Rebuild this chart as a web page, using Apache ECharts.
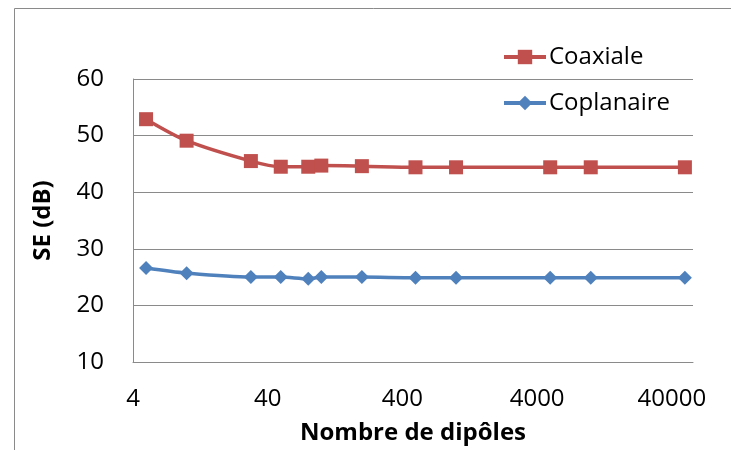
<!DOCTYPE html>
<html>
<head>
<meta charset="utf-8">
<script src="https://cdn.jsdelivr.net/npm/echarts@6/dist/echarts.min.js"></script>
<style>html,body{margin:0;padding:0;background:#fff}#c{width:731px;height:450px}</style>
</head>
<body>
<div id="c"></div>
<script>
// Data
const dipoles = [5, 10, 30, 50, 80, 100, 200, 500, 1000, 5000, 10000, 50000];
const coaxiale = [52.9, 49.1, 45.5, 44.5, 44.5, 44.7, 44.6, 44.4, 44.4, 44.4, 44.4, 44.4];
const coplanaire = [26.6, 25.7, 25.0, 25.0, 24.7, 25.0, 25.0, 24.9, 24.9, 24.9, 24.9, 24.9];
const xTickLabels = ['4', '40', '400', '4000', '40000'];
const yTicks = [10, 20, 30, 40, 50, 60];

const BASE = 4; // log axis starts at 4
const toU = n => Math.log10(n / BASE);
const font = '"Open Sans", Lato, sans-serif';

const chart = echarts.init(document.getElementById('c'), null, {renderer: 'canvas'});
chart.setOption({
  backgroundColor: '#fff',
  animation: false,
  graphic: [{
    type: 'rect', left: 12, top: 6, shape: {width: 760, height: 480},
    style: {fill: 'none', stroke: '#8a8a8a', lineWidth: 1}, silent: true, z: -1
  }],
  legend: {
    orient: 'vertical', left: 497, top: 39, itemWidth: 42, itemHeight: 18, itemGap: 20,
    lineStyle: {width: 4},
    textStyle: {fontFamily: font, fontSize: 24, color: '#000', lineHeight: 26, padding: [0, 0, 0, -2]},
    data: ['Coaxiale', 'Coplanaire']
  },
  grid: {left: 133, right: 38, top: 79, bottom: 87, containLabel: false},
  xAxis: {
    type: 'value', min: 0, max: 4.157, interval: 1,
    name: 'Nombre de dipôles', nameLocation: 'middle', nameGap: 59,
    nameTextStyle: {fontFamily: font, fontSize: 24, fontWeight: 'bold', color: '#000'},
    axisLine: {show: true, lineStyle: {color: '#8a8a8a', width: 1}},
    axisTick: {show: false}, splitLine: {show: false},
    axisLabel: {
      fontFamily: font, fontSize: 24, color: '#000', margin: 25, showMaxLabel: false,
      formatter: v => { const i = Math.round(v); return Math.abs(v - i) < 1e-6 ? (xTickLabels[i] || '') : ''; }
    }
  },
  yAxis: {
    type: 'value', min: yTicks[0], max: yTicks[yTicks.length - 1], interval: 10,
    name: 'SE (dB)', nameLocation: 'middle', nameGap: 78, nameRotate: 90,
    nameTextStyle: {fontFamily: font, fontSize: 24, fontWeight: 'bold', color: '#000'},
    axisLine: {show: true, lineStyle: {color: '#8a8a8a', width: 1}},
    axisTick: {show: false},
    splitLine: {show: true, lineStyle: {color: '#8a8a8a', width: 1}},
    axisLabel: {fontFamily: font, fontSize: 24, color: '#000', margin: 29}
  },
  series: [{
    name: 'Coaxiale', type: 'line', smooth: 0.3,
    data: dipoles.map((n, i) => [toU(n), coaxiale[i]]),
    symbol: 'rect', symbolSize: 14,
    lineStyle: {color: '#C0504D', width: 3.5},
    itemStyle: {color: '#C0504D'}
  }, {
    name: 'Coplanaire', type: 'line', smooth: 0.3,
    data: dipoles.map((n, i) => [toU(n), coplanaire[i]]),
    symbol: 'diamond', symbolSize: 14,
    lineStyle: {color: '#4F81BD', width: 3.5},
    itemStyle: {color: '#4F81BD'}
  }]
});
</script>
</body>
</html>
